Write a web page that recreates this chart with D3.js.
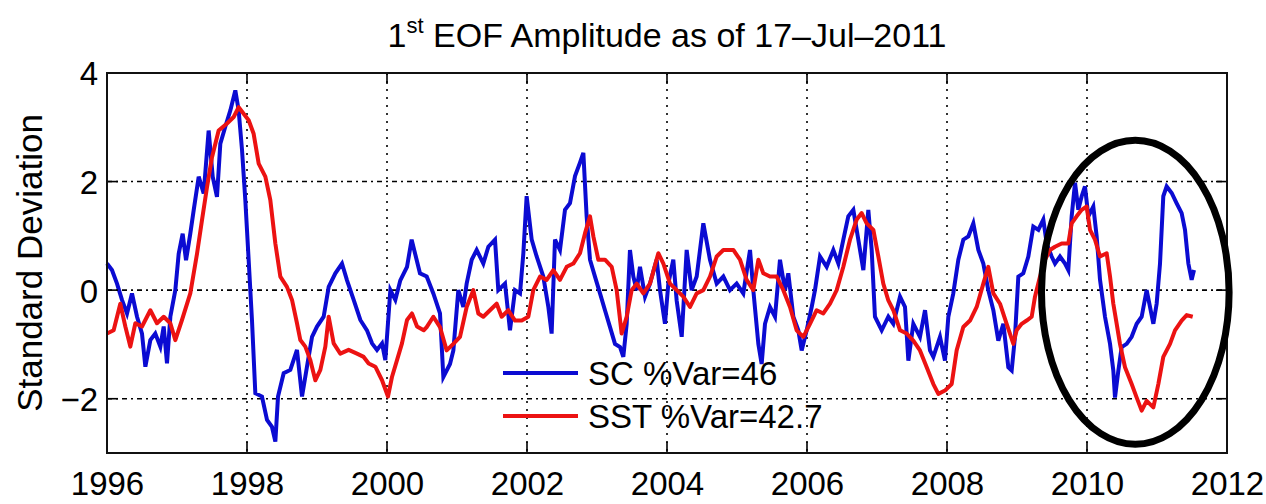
<!DOCTYPE html>
<html>
<head>
<meta charset="utf-8">
<script src="https://cdn.jsdelivr.net/npm/d3@7"></script>
<style>
  body { margin: 0; background: #fff; }
  svg { display: block; font-family: "Liberation Sans", Arial, Helvetica, sans-serif; }
</style>
</head>
<body>
<div id="chart"></div>
<script>
// SC amplitude (blue), year / standard deviation
var scYears = [1996.000,1996.071,1996.143,1996.214,1996.286,1996.357,1996.429,1996.500,1996.548,1996.619,1996.690,1996.762,1996.810,1996.857,1996.905,1996.976,
  1997.024,1997.081,1997.129,1997.190,1997.238,1997.310,1997.381,1997.452,1997.510,1997.571,1997.619,1997.690,1997.762,1997.833,1997.881,1997.929,1997.976,
  1998.024,1998.071,1998.119,1998.214,1998.286,1998.357,1998.405,1998.443,1998.524,1998.619,1998.714,1998.786,1998.857,1998.929,
  1999.000,1999.095,1999.167,1999.262,1999.357,1999.429,1999.524,1999.619,1999.714,1999.786,1999.857,1999.929,1999.976,
  2000.048,2000.119,2000.190,2000.286,2000.352,2000.471,2000.567,2000.662,2000.757,2000.805,2000.900,2000.948,
  2001.019,2001.090,2001.138,2001.210,2001.281,2001.376,2001.448,2001.543,2001.590,2001.686,2001.757,2001.829,2001.900,2001.948,2001.995,
  2002.067,2002.138,2002.233,2002.305,2002.352,2002.400,2002.471,2002.543,2002.614,2002.686,2002.757,2002.805,2002.852,2002.900,2002.971,
  2003.043,2003.114,2003.186,2003.257,2003.329,2003.376,2003.424,2003.471,2003.519,2003.567,2003.614,2003.686,2003.757,2003.852,2003.900,2003.971,
  2004.019,2004.090,2004.138,2004.210,2004.281,2004.352,2004.424,2004.519,2004.614,2004.710,2004.805,2004.900,2004.995,
  2005.090,2005.186,2005.233,2005.305,2005.352,2005.400,2005.471,2005.543,2005.614,2005.686,2005.733,2005.805,2005.876,2005.924,2005.995,
  2006.067,2006.114,2006.186,2006.281,2006.376,2006.448,2006.519,2006.590,2006.662,2006.733,2006.805,2006.876,2006.924,2006.971,
  2007.067,2007.162,2007.233,2007.329,2007.400,2007.448,2007.519,2007.614,2007.686,2007.757,2007.805,2007.900,2007.971,
  2008.019,2008.090,2008.162,2008.233,2008.305,2008.376,2008.448,2008.519,2008.590,2008.662,2008.733,2008.805,2008.876,2008.924,2008.971,
  2009.019,2009.090,2009.162,2009.233,2009.305,2009.376,2009.424,2009.495,2009.543,2009.614,2009.686,2009.733,2009.781,2009.829,2009.876,2009.924,2009.971,
  2010.019,2010.090,2010.138,2010.186,2010.257,2010.329,2010.376,2010.400,2010.448,2010.495,2010.567,2010.638,2010.710,2010.781,2010.852,2010.900,2010.948,2010.995,
  2011.043,2011.090,2011.138,2011.210,2011.281,2011.352,2011.400,2011.448,2011.495,2011.529];
var scValues = [0.49,0.37,0.12,-0.18,-0.43,-0.06,-0.49,-0.80,-1.41,-0.92,-0.80,-1.04,-0.67,-1.35,-0.49,0.00,
  0.67,1.04,0.55,1.04,1.47,2.09,1.78,2.94,2.09,1.72,2.70,3.01,3.31,3.68,3.31,2.58,1.66,
  0.55,-0.55,-1.90,-1.96,-2.39,-2.52,-2.79,-1.96,-1.53,-1.47,-1.10,-1.96,-1.41,-0.86,
  -0.67,-0.49,0.06,0.31,0.49,0.18,-0.18,-0.55,-0.74,-0.98,-1.10,-0.98,-1.29,
  0.00,-0.18,0.18,0.43,0.93,0.31,0.25,-0.06,-0.43,-1.60,-1.36,-1.11,
  0.00,-0.31,0.12,0.56,0.74,0.49,0.80,0.93,0.00,0.12,-0.74,0.00,-0.06,0.68,1.73,
  0.93,0.62,0.25,-0.31,-0.80,0.93,0.74,1.48,1.60,2.10,2.35,2.53,1.36,0.56,0.25,
  -0.06,-0.37,-0.68,-0.99,-1.05,-1.23,-0.62,0.74,0.25,0.00,0.43,-0.12,0.12,0.56,0.00,-0.62,
  0.12,0.56,-0.19,-0.86,0.74,0.00,0.25,1.23,0.56,0.12,0.25,0.00,0.12,
  -0.06,0.74,0.00,-0.99,-1.36,-0.62,-0.31,-0.49,0.56,0.00,0.31,-0.49,-0.74,-1.11,-0.74,
  -0.31,0.00,0.62,0.43,0.74,0.49,0.93,1.36,1.48,0.93,0.37,1.48,0.74,-0.49,
  -0.74,-0.49,-0.62,-0.12,-0.31,-1.30,-0.62,-0.86,-0.37,-1.11,-1.23,-0.86,-1.30,
  -0.49,-0.06,0.56,0.93,0.99,1.23,0.74,0.49,0.00,-0.37,-0.93,-0.62,-1.42,-1.48,-0.86,
  0.25,0.31,0.62,1.17,1.11,1.30,0.86,0.62,0.49,0.62,0.49,0.37,1.36,1.98,1.48,1.73,1.91,
  1.36,1.54,0.99,0.19,-0.49,-0.99,-1.48,-1.98,-1.48,-1.05,-0.99,-0.86,-0.62,-0.49,0.00,-0.31,-0.62,-0.25,
  0.49,1.73,1.91,1.79,1.60,1.42,1.11,0.49,0.19,0.37];

// SST amplitude (red)
var sstYears = [1996.000,1996.095,1996.190,1996.262,1996.333,1996.405,1996.500,1996.619,1996.714,1996.810,1996.905,1996.976,
  1997.071,1997.190,1997.286,1997.357,1997.429,1997.500,1997.595,1997.714,1997.810,1997.881,1997.952,
  1998.024,1998.095,1998.167,1998.262,1998.333,1998.405,1998.476,1998.571,1998.643,1998.714,1998.762,1998.833,1998.905,1998.976,
  1999.048,1999.119,1999.167,1999.238,1999.333,1999.452,1999.571,1999.667,1999.738,1999.833,1999.929,
  2000.014,2000.071,2000.143,2000.214,2000.286,2000.357,2000.429,2000.524,2000.567,2000.662,2000.757,2000.852,2000.948,
  2001.043,2001.138,2001.233,2001.305,2001.376,2001.471,2001.567,2001.638,2001.733,2001.829,2001.924,
  2002.019,2002.090,2002.186,2002.281,2002.376,2002.471,2002.567,2002.662,2002.757,2002.829,2002.900,2002.948,
  2003.019,2003.114,2003.210,2003.281,2003.352,2003.424,2003.495,2003.567,2003.662,2003.757,2003.876,2003.948,
  2004.043,2004.138,2004.233,2004.329,2004.424,2004.519,2004.614,2004.710,2004.805,2004.900,2004.948,
  2005.043,2005.138,2005.233,2005.305,2005.376,2005.471,2005.567,2005.662,2005.757,2005.852,2005.948,
  2006.043,2006.138,2006.233,2006.329,2006.424,2006.519,2006.614,2006.710,2006.781,2006.852,2006.948,
  2007.019,2007.090,2007.162,2007.233,2007.329,2007.424,2007.519,2007.614,2007.710,2007.805,2007.876,2007.971,
  2008.067,2008.138,2008.233,2008.329,2008.424,2008.519,2008.590,2008.662,2008.757,2008.852,2008.948,2008.995,
  2009.067,2009.138,2009.210,2009.257,2009.329,2009.400,2009.471,2009.543,2009.638,2009.733,2009.781,2009.852,2009.924,2009.995,
  2010.043,2010.114,2010.186,2010.281,2010.329,2010.376,2010.424,2010.471,2010.543,2010.638,2010.710,2010.781,2010.852,2010.948,
  2011.019,2011.090,2011.186,2011.257,2011.352,2011.424,2011.510];
var sstValues = [-0.80,-0.74,-0.25,-0.67,-1.04,-0.61,-0.67,-0.37,-0.61,-0.49,-0.61,-0.92,
  -0.55,-0.06,0.67,1.29,1.90,2.45,2.94,3.07,3.19,3.37,3.25,
  3.13,2.88,2.33,2.09,1.66,0.86,0.25,0.06,-0.18,-0.61,-0.92,-1.04,-1.29,-1.66,
  -1.47,-1.04,-0.49,-0.98,-1.17,-1.10,-1.17,-1.23,-1.35,-1.41,-1.66,
  -1.96,-1.60,-1.29,-0.98,-0.55,-0.43,-0.67,-0.74,-0.68,-0.49,-0.68,-1.11,-0.99,
  -0.86,-0.31,0.00,-0.43,-0.49,-0.37,-0.25,-0.49,-0.37,-0.56,-0.56,
  -0.49,0.00,0.25,0.19,0.37,0.19,0.43,0.49,0.68,1.05,1.36,0.99,
  0.56,0.56,0.43,0.00,-0.80,-0.49,0.00,0.12,-0.06,0.12,0.68,0.49,
  0.12,0.00,-0.12,-0.31,-0.06,0.00,0.25,0.62,0.74,0.74,0.74,
  0.56,0.19,0.00,0.56,0.31,0.25,0.25,0.00,-0.31,-0.74,-0.86,
  -0.62,-0.37,-0.43,-0.25,0.00,0.43,0.93,1.30,1.42,1.23,1.11,
  0.62,0.12,-0.19,-0.37,-0.74,-0.80,-0.93,-1.11,-1.42,-1.73,-1.91,-1.85,
  -1.73,-1.11,-0.68,-0.56,-0.31,0.12,0.43,-0.06,-0.25,-0.62,-0.99,-0.74,
  -0.62,-0.56,-0.49,-0.12,0.25,0.56,0.74,0.80,0.86,0.86,1.23,1.36,1.48,1.54,
  1.11,0.93,0.62,0.68,0.25,-0.25,-0.62,-0.99,-1.42,-1.73,-1.98,-2.22,-2.04,-2.16,
  -1.73,-1.23,-0.99,-0.74,-0.56,-0.46,-0.49];

var xTicks = [1996, 1998, 2000, 2002, 2004, 2006, 2008, 2010, 2012];
var yTicks = [-2, 0, 2, 4];
var legendLabels = ["SC %Var=46", "SST %Var=42.7"];
// highlighted region (centre year, centre value, half-width in years, half-height in SD)
var ringCentre = [2010.69, -0.04];
var ringRadius = [1.34, 2.8];

var W = 1266, H = 504;
var margin = {top: 73, right: 39, bottom: 51, left: 107};
var width = W - margin.left - margin.right,
    height = H - margin.top - margin.bottom;

var svg = d3.select("#chart").append("svg")
    .attr("width", W)
    .attr("height", H);

var x = d3.scaleLinear().domain([1996, 2012]).range([margin.left, margin.left + width]);
var y = d3.scaleLinear().domain([-3, 4]).range([margin.top + height, margin.top]);

// grid
var grid = svg.append("g").attr("class", "grid");
grid.selectAll("line.gx")
    .data(xTicks.filter(function(d){ return d > 1996 && d < 2012; }))
    .enter().append("line")
    .attr("class", "gx")
    .attr("x1", function(d){ return x(d); }).attr("x2", function(d){ return x(d); })
    .attr("y1", y(4)).attr("y2", y(-3))
    .attr("stroke", "#000").attr("stroke-width", 1.6)
    .attr("stroke-dasharray", "2,6");
grid.selectAll("line.gy")
    .data(yTicks.filter(function(d){ return d < 4; }))
    .enter().append("line")
    .attr("class", "gy")
    .attr("y1", function(d){ return y(d); }).attr("y2", function(d){ return y(d); })
    .attr("x1", x(1996)).attr("x2", x(2012))
    .attr("stroke", "#000").attr("stroke-width", 1.6)
    .attr("stroke-dasharray", "5,4,2,4");

// series
var line = d3.line()
    .x(function(d){ return x(d[0]); })
    .y(function(d){ return y(d[1]); });

var sc = d3.zip(scYears, scValues);
var sst = d3.zip(sstYears, sstValues);

svg.append("path").datum(sc)
    .attr("d", line)
    .attr("fill", "none")
    .attr("stroke", "#0b0bd2")
    .attr("stroke-width", 4)
    .attr("stroke-linejoin", "miter");

svg.append("path").datum(sst)
    .attr("d", line)
    .attr("fill", "none")
    .attr("stroke", "#ec1212")
    .attr("stroke-width", 4)
    .attr("stroke-linejoin", "round");

// axes box with inward ticks on all sides
var tickLen = 11;
var axBottom = d3.axisBottom(x).tickValues(xTicks).tickSize(0).tickPadding(0).tickFormat(d3.format("d"));
svg.append("g")
    .attr("transform", "translate(0," + y(-3) + ")")
    .call(axBottom)
    .call(function(g){
        g.select(".domain").remove();
        g.selectAll("text")
            .attr("y", 42)
            .attr("dy", null)
            .attr("fill", "#000")
            .style("font-size", "33px")
            .style("font-family", "'Liberation Sans', Arial, sans-serif");
    });

var axLeft = d3.axisLeft(y).tickValues(yTicks).tickSize(0).tickPadding(9)
    .tickFormat(function(d){ return d < 0 ? "\u2212" + Math.abs(d) : d; });
svg.append("g")
    .attr("transform", "translate(" + x(1996) + ",0)")
    .call(axLeft)
    .call(function(g){
        g.select(".domain").remove();
        g.selectAll("text")
            .attr("dy", "0.36em")
            .attr("fill", "#000")
            .style("font-size", "33px")
            .style("font-family", "'Liberation Sans', Arial, sans-serif");
    });

var ticks = svg.append("g").attr("stroke", "#000").attr("stroke-width", 1.6);
xTicks.forEach(function(t){
    ticks.append("line").attr("x1", x(t)).attr("x2", x(t)).attr("y1", y(-3)).attr("y2", y(-3) - tickLen);
    ticks.append("line").attr("x1", x(t)).attr("x2", x(t)).attr("y1", y(4)).attr("y2", y(4) + tickLen);
});
yTicks.forEach(function(t){
    ticks.append("line").attr("x1", x(1996)).attr("x2", x(1996) + tickLen).attr("y1", y(t)).attr("y2", y(t));
    ticks.append("line").attr("x1", x(2012)).attr("x2", x(2012) - tickLen).attr("y1", y(t)).attr("y2", y(t));
});

svg.append("rect")
    .attr("x", x(1996)).attr("y", y(4))
    .attr("width", x(2012) - x(1996)).attr("height", y(-3) - y(4))
    .attr("fill", "none").attr("stroke", "#111").attr("stroke-width", 2);

// legend (no box)
var legend = svg.append("g").attr("transform", "translate(503,373)");
var legColors = ["#0b0bd2", "#ec1212"];
legendLabels.forEach(function(lbl, i){
    legend.append("line")
        .attr("x1", 0).attr("x2", 75)
        .attr("y1", i * 43).attr("y2", i * 43)
        .attr("stroke", legColors[i]).attr("stroke-width", 4);
    legend.append("text")
        .attr("x", 85).attr("y", i * 43)
        .attr("dy", "0.36em")
        .attr("fill", "#000")
        .style("font-size", "33px")
        .text(lbl);
});

// title
var title = svg.append("text")
    .attr("x", 667).attr("y", 47)
    .attr("text-anchor", "middle")
    .attr("fill", "#000")
    .style("font-size", "34px");
title.append("tspan").text("1");
title.append("tspan").attr("dy", -14).style("font-size", "22px").text("st");
title.append("tspan").attr("dy", 14).text(" EOF Amplitude as of 17\u2013Jul\u20132011");

// y label
svg.append("text")
    .attr("transform", "translate(42,263) rotate(-90)")
    .attr("text-anchor", "middle")
    .attr("fill", "#000")
    .style("font-size", "35px")
    .text("Standard Deviation");

// annotation ellipse
svg.append("ellipse")
    .attr("cx", x(ringCentre[0]))
    .attr("cy", y(ringCentre[1]))
    .attr("rx", x(ringCentre[0] + ringRadius[0]) - x(ringCentre[0]))
    .attr("ry", y(ringCentre[1] - ringRadius[1]) - y(ringCentre[1]))
    .attr("fill", "none")
    .attr("stroke", "#000")
    .attr("stroke-width", 7);
</script>
</body>
</html>
